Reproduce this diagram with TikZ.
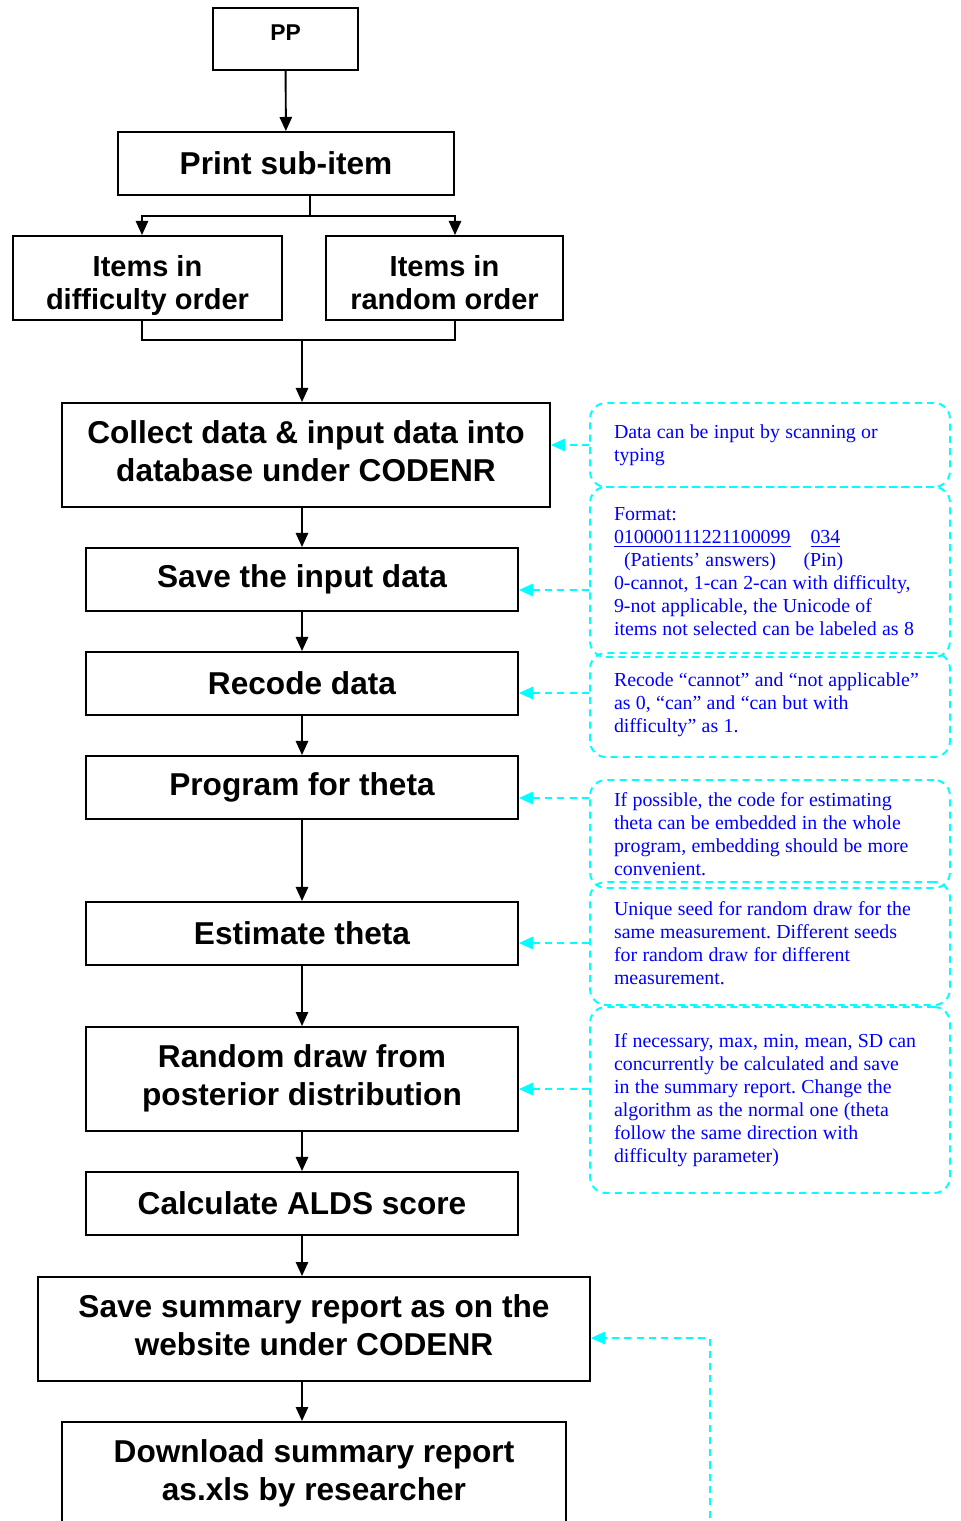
\documentclass[tikz,border=0pt]{standalone}
\usepackage{fontspec}
\setmainfont{Liberation Serif}
\setsansfont{Liberation Sans}
\usetikzlibrary{arrows.meta}
\definecolor{linkcyan}{RGB}{0,255,255}
\definecolor{noteblue}{RGB}{0,0,255}
\newcommand{\notefont}{\fontsize{11.3}{13.1}\selectfont}

\begin{document}
\begin{tikzpicture}[x=0.02cm, y=-0.02cm, >={Triangle[length=8pt, width=7pt]},
	procbox/.style={draw, line width=1.1pt, align=center, inner sep=0pt, font=\sffamily\bfseries\fontsize{18}{21.5}\selectfont},
	twoline/.style={procbox, minimum height=2.08cm, execute at end node={\rule[-4.5pt]{0pt}{1pt}}},
	itembox/.style={procbox, minimum height=1.68cm, execute at end node={\rule[-4.5pt]{0pt}{1pt}}, font=\sffamily\bfseries\fontsize{16.5}{18.7}\selectfont},
	notebox/.style={draw=linkcyan, line width=1.1pt, dash pattern=on 4pt off 3pt, rounded corners=9pt, minimum width=7.2cm, inner sep=0pt,
		text width=6.24cm, align=left, text=noteblue, font=\notefont, execute at begin node={\frenchspacing\spaceskip=0.27em plus 0.1em minus 0.05em\relax}},
	flow/.style={->, line width=1.1pt},
	notelink/.style={->, linkcyan, line width=1.1pt, dash pattern=on 4pt off 3pt}]
	\useasboundingbox (0,0) rectangle (960,1521);
	\node[procbox, minimum width=2.9cm, minimum height=1.24cm, text depth=6.8pt, font=\sffamily\bfseries\fontsize{13}{15}\selectfont] (pp) at (285.5,39) {PP};
	\node[procbox, minimum width=6.72cm, minimum height=1.26cm] (print) at (286,163.5) {Print sub-item};
	\node[itembox, minimum width=5.38cm] (diff) at (147.5,278) {\rule{0pt}{21.5pt}Items in\\difficulty order};
	\node[itembox, minimum width=4.74cm] (rand) at (444.5,278) {\rule{0pt}{21.5pt}Items in\\random order};
	\node[twoline, minimum width=9.76cm] (collect) at (306,455) {Collect data \& input data into\\database under CODENR};
	\node[procbox, minimum width=8.64cm, minimum height=1.26cm] (save) at (302,579.5) {Save the input data};
	\node[procbox, minimum width=8.64cm, minimum height=1.26cm] (recode) at (302,683.5) {Recode data};
	\node[procbox, minimum width=8.64cm, minimum height=1.26cm] (program) at (302,787.5) {Program for theta};
	\node[procbox, minimum width=8.64cm, minimum height=1.26cm] (estimate) at (302,933.5) {Estimate theta};
	\node[twoline, minimum width=8.64cm] (random) at (302,1079) {Random draw from\\posterior distribution};
	\node[procbox, minimum width=8.64cm, minimum height=1.26cm] (calc) at (302,1203.5) {Calculate ALDS score};
	\node[twoline, minimum width=11.04cm] (summary) at (314,1329) {Save summary report as on the\\website under CODENR};
	\node[twoline, minimum width=10.08cm] (download) at (314,1474) {Download summary report\\as.xls by researcher};

	\node[notebox, minimum height=1.68cm] (n1) at (770,445) {Data can be input by scanning or\\typing};
	\node[notebox, minimum height=3.4cm] (n2) at (770,572) {Format:\\
		\underline{010000111221100099}\hspace{0.4cm}\underline{034}\\
		\hspace{0.2cm}(Patients’ answers)\hspace{0.55cm}(Pin)\\
		0-cannot, 1-can 2-can with difficulty,\\
		9-not applicable, the Unicode of\\
		items not selected can be labeled as 8};
	\node[notebox, minimum height=2.08cm] (n3) at (770,705) {Recode “cannot” and “not applicable”\\as 0, “can” and “can but with\\difficulty” as 1.};
	\node[notebox, minimum height=2.16cm] (n4) at (770,834) {If possible, the code for estimating\\theta can be embedded in the whole\\program, embedding should be more\\convenient.};
	\node[notebox, minimum height=2.46cm] (n5) at (770,943.5) {Unique seed for random draw for the\\same measurement. Different seeds\\for random draw for different\\measurement.};
	\node[notebox, minimum height=3.72cm] (n6) at (770,1100) {If necessary, max, min, mean, SD can\\concurrently be calculated and save\\in the summary report. Change the\\algorithm as the normal one (theta\\follow the same direction with\\difficulty parameter)};

	\coordinate (split) at (310,216);
	\coordinate (merge) at (302,340);
	\coordinate (feed) at (710,1530);

	\draw[flow] (pp) -- (print);
	\draw[line width=1.1pt] (split |- print.south) -- (split);
	\draw[flow] (split) -| ([xshift=-0.11cm]diff.north);
	\draw[flow] (split) -| ([xshift=0.21cm]rand.north);
	\draw[line width=1.1pt] ([xshift=-0.11cm]diff.south) |- (merge) -| ([xshift=0.21cm]rand.south);
	\draw[flow] (merge) -- (merge |- collect.north);
	\draw[flow] (collect.south -| save.north) -- (save.north);
	\foreach \a/\b in {save/recode, recode/program, program/estimate, estimate/random, random/calc}
		\draw[flow] (\a) -- (\b);
	\draw[flow] (calc) -- (calc |- summary.north);
	\draw[flow] (calc |- summary.south) -- (calc |- download.north);

	\draw[notelink] (n1.west) -- (n1.west -| collect.east);
	\draw[notelink] ([yshift=-0.21cm]n2.west |- save.east) -- ([yshift=-0.21cm]save.east);
	\draw[notelink] ([yshift=-0.19cm]n3.west |- recode.east) -- ([yshift=-0.19cm]recode.east);
	\draw[notelink] ([yshift=-0.21cm]n4.west |- program.east) -- ([yshift=-0.21cm]program.east);
	\draw[notelink] ([yshift=-0.19cm]n5.west |- estimate.east) -- ([yshift=-0.19cm]estimate.east);
	\draw[notelink] ([yshift=-0.2cm]n6.west |- random.east) -- ([yshift=-0.2cm]random.east);
	\draw[notelink] (feed) |- ([yshift=-0.18cm]summary.east);
\end{tikzpicture}
\end{document}
